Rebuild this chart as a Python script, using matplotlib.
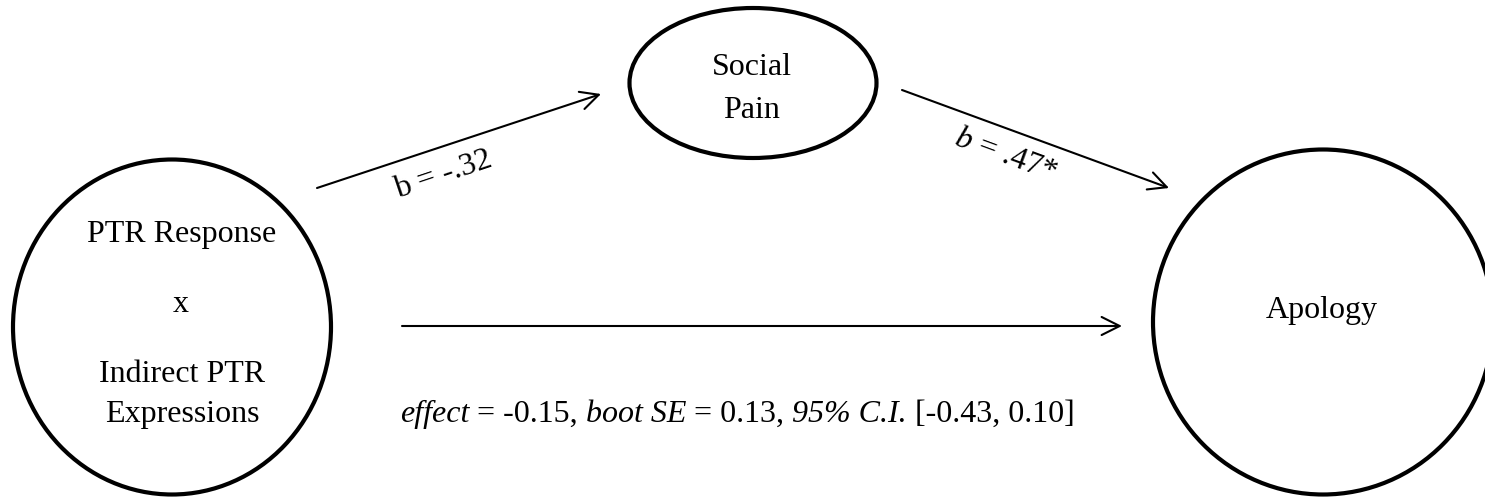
import matplotlib
matplotlib.use("Agg")
import matplotlib.pyplot as plt
from matplotlib.patches import Ellipse, FancyArrowPatch

plt.rcParams["font.family"] = "Liberation Serif"
plt.rcParams["mathtext.fontset"] = "custom"
plt.rcParams["mathtext.rm"] = "Liberation Serif"
plt.rcParams["mathtext.it"] = "Liberation Serif:italic"

# path coefficients and indirect effect
b_a = "-.32"
b_b = ".47*"
effect = -0.15
boot_se = 0.13
ci = (-0.43, 0.10)

# nodes: centre (px), width, height
node_xy = [(172, 327), (753, 83), (1323, 322)]
node_size = [(318, 335), (247, 150), (340, 345)]

# node texts: x, baseline y, text
node_text = [
    (182, 242, "PTR Response"),
    (181, 312, "x"),
    (182, 382, "Indirect PTR"),
    (182, 422, "Expressions"),
    (752, 75, "Social"),
    (752, 118, "Pain"),
    (1322, 318, "Apology"),
]

# arrows between nodes
path_start = [(317, 188), (902, 90), (402, 326)]
path_end = [(601, 94), (1169, 188), (1122, 326)]
path_labels = ["b = " + b_a, r"$b$ = " + b_b]
path_label_xy = [(443, 175), (1005, 155)]
path_label_rot = [18.5, -20.2]

fs = 23

fig = plt.figure(figsize=(14.85, 4.98), dpi=100)
ax = fig.add_axes([0, 0, 1, 1])
ax.set_xlim(0, 1485)
ax.set_ylim(498, 0)
ax.axis("off")

for (x, y), (w, h) in zip(node_xy, node_size):
    ax.add_patch(Ellipse((x, y), w, h, fill=False, lw=3, ec="black"))

for x, y, t in node_text:
    ax.text(x, y, t, ha="center", va="baseline", fontsize=fs)

for s, e in zip(path_start, path_end):
    ax.add_patch(FancyArrowPatch(s, e, arrowstyle="->,head_length=13,head_width=6.5",
                                 mutation_scale=1, lw=1.5, color="black",
                                 shrinkA=0, shrinkB=0))

for t, (x, y), r in zip(path_labels, path_label_xy, path_label_rot):
    ax.text(x, y, t, ha="center", va="center", rotation=r, fontsize=fs,
            rotation_mode="anchor")

# bottom line, mixed italic / roman, drawn run by run
runs = [("effect", "italic"), (" = %.2f, " % effect, "normal"),
        ("boot SE", "italic"), (" = %.2f, " % boot_se, "normal"),
        ("95% C.I.", "italic"), (" [%.2f, %.2f]" % ci, "normal")]

renderer = fig.canvas.get_renderer()
probe = ax.text(0, 0, "a a", fontsize=fs)
w2 = probe.get_window_extent(renderer).width
probe.set_text("aa")
space_w = w2 - probe.get_window_extent(renderer).width
probe.remove()

x = 400
y = 422
for t, st in runs:
    lead = len(t) - len(t.lstrip(" "))
    trail = len(t) - len(t.rstrip(" "))
    x += lead * space_w
    txt = ax.text(x, y, t.strip(" "), fontsize=fs, style=st, ha="left", va="baseline")
    x += txt.get_window_extent(renderer).width + trail * space_w

fig.savefig("out.png", dpi=100)
